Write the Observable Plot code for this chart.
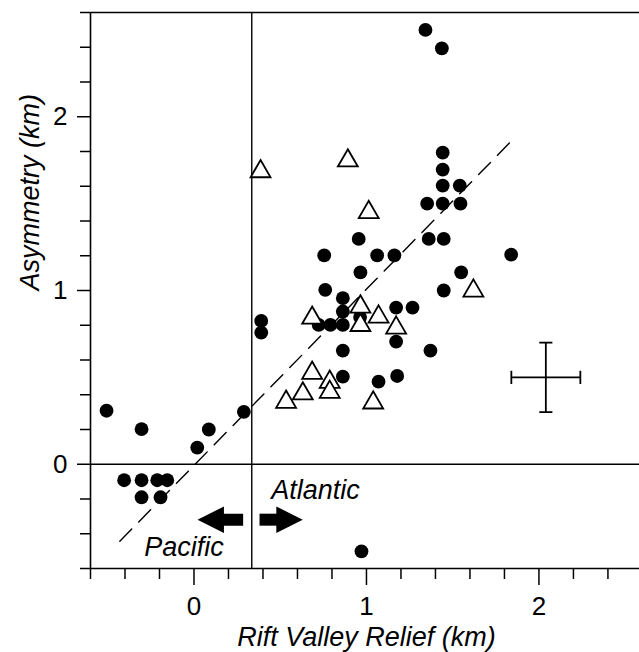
<!DOCTYPE html>
<html><head><meta charset="utf-8">
<script src="https://cdn.jsdelivr.net/npm/d3@7"></script>
<script src="https://cdn.jsdelivr.net/npm/@observablehq/plot@0.6"></script>
<style>
html,body{margin:0;padding:0;background:#fff;}
</style></head><body><div id="chart"></div>
<script>
// Filled circles
const circleX = [-0.507,-0.304,0.086,0.019,0.289,-0.405,-0.304,-0.213,-0.155,-0.304,-0.194,
  0.755,1.062,1.162,0.965,1.549,0.761,1.448,0.863,0.863,1.172,1.267,0.39,0.39,0.723,0.791,0.863,0.963,
  0.863,1.172,1.371,0.863,1.07,1.178,1.342,1.437,1.442,1.442,1.442,1.541,1.352,1.442,1.545,0.955,1.361,1.448,1.839,0.971];
const circleY = [0.308,0.202,0.200,0.096,0.302,-0.092,-0.092,-0.092,-0.092,-0.19,-0.19,
  1.202,1.202,1.202,1.104,1.104,1.004,1.0,0.956,0.879,0.902,0.902,0.825,0.758,0.802,0.802,0.802,0.847,
  0.654,0.706,0.654,0.504,0.475,0.508,2.50,2.393,1.793,1.696,1.604,1.604,1.50,1.50,1.50,1.297,1.297,1.297,1.206,-0.502];
// Open triangles
const triX = [0.685,0.965,0.965,1.07,1.172,0.685,0.787,0.787,0.631,0.534,1.039,1.62,0.386,0.892,1.013];
const triY = [0.842,0.906,0.80,0.848,0.785,0.525,0.473,0.415,0.406,0.358,0.354,0.998,1.685,1.747,1.45];
// Dashed fit line
const fitX = [-0.43, 1.84];
const fitY = [-0.443, 1.86];
// Reference lines
const dividerX = [0.335];
const zeroY = [0];
// Error cross
const errX = [2.04], errY = [0.5], errDX = [0.2], errDY = [0.2], errCap = [0.038];
// Arrows
const arrowTailX = [0.285, 0.38];
const arrowHeadX = [0.097, 0.554];
const arrowY = [-0.319, -0.319];
const arrowRotate = [180, 0];
// Annotations
const noteText = ["Atlantic", "Pacific"];
const noteX = [0.704, -0.058];
const noteY = [-0.148, -0.477];
// Ticks
const xMajor = [0, 1, 2];
const xMinor = [-0.6,-0.4,-0.2,0.2,0.4,0.6,0.8,1.2,1.4,1.6,1.8,2.2,2.4];
const yMajor = [0, 1, 2];
const yMinor = [-0.6,-0.4,-0.2,0.2,0.4,0.6,0.8,1.2,1.4,1.6,1.8,2.2,2.4,2.6];
const xLabel = "Rift Valley Relief (km)";
const yLabel = "Asymmetry (km)";

const circles = circleX.map((x, i) => ({x, y: circleY[i]}));
const tris = triX.map((x, i) => ({x, y: triY[i]}));
const fit = fitX.map((x, i) => ({x, y: fitY[i]}));
const errLinks = [];
errX.forEach((cx, i) => {
  const cy = errY[i], dx = errDX[i], dy = errDY[i], c = errCap[i];
  errLinks.push({x1: cx - dx, x2: cx + dx, y1: cy, y2: cy});
  errLinks.push({x1: cx, x2: cx, y1: cy - dy, y2: cy + dy});
  errLinks.push({x1: cx - dx, x2: cx - dx, y1: cy - c, y2: cy + c});
  errLinks.push({x1: cx + dx, x2: cx + dx, y1: cy - c, y2: cy + c});
  errLinks.push({x1: cx - c, x2: cx + c, y1: cy - dy, y2: cy - dy});
  errLinks.push({x1: cx - c, x2: cx + c, y1: cy + dy, y2: cy + dy});
});
const arrows = arrowTailX.map((t, i) => ({x1: t, x2: arrowHeadX[i], y: arrowY[i], rot: arrowRotate[i]}));
const notes = noteText.map((t, i) => ({t, x: noteX[i], y: noteY[i]}));

const headSymbol = {
  draw(ctx, size) {
    const r = Math.sqrt(size / Math.PI);
    ctx.moveTo(r, 0);
    ctx.lineTo(-r, -r);
    ctx.lineTo(-r, r);
    ctx.closePath();
  }
};

const FONT = "'Liberation Sans', Arial, Helvetica, sans-serif";

const chart = Plot.plot({
  width: 639,
  height: 652,
  marginLeft: 90,
  marginRight: 0,
  marginTop: 12,
  marginBottom: 84,
  x: {domain: [-0.6, 2.583]},
  y: {domain: [-0.6, 2.6]},
  style: {fontFamily: FONT, fontSize: "26px", background: "white", color: "black", overflow: "visible"},
  marks: [
    Plot.axisX({ticks: xMinor, tickSize: 11, tickFormat: () => "", label: null, strokeWidth: 1.5}),
    Plot.axisX({ticks: xMajor, tickSize: 17, tickPadding: 11, tickFormat: d3.format("d"), label: null, strokeWidth: 1.5, fontSize: 26}),
    Plot.axisY({ticks: yMinor, tickSize: 10, tickFormat: () => "", label: null, strokeWidth: 1.5}),
    Plot.axisY({ticks: yMajor, tickSize: 13, tickPadding: 10, tickFormat: d3.format("d"), label: null, strokeWidth: 1.5, fontSize: 26}),
    Plot.ruleX([-0.6], {stroke: "black", strokeWidth: 1.6}),
    Plot.ruleY([-0.6], {stroke: "black", strokeWidth: 1.6}),
    Plot.ruleY([2.6], {stroke: "black", strokeWidth: 1.6}),
    Plot.ruleY(zeroY, {stroke: "black", strokeWidth: 1.4}),
    Plot.ruleX(dividerX, {stroke: "black", strokeWidth: 1.4}),
    Plot.line(fit, {x: "x", y: "y", stroke: "black", strokeWidth: 1.4, strokeDasharray: "17,10"}),
    Plot.link(errLinks, {x1: "x1", x2: "x2", y1: "y1", y2: "y2", stroke: "black", strokeWidth: 1.8}),
    Plot.link(arrows, {x1: "x1", x2: "x2", y1: "y", y2: "y", stroke: "black", strokeWidth: 12}),
    Plot.dot(arrows, {x: "x2", y: "y", symbol: headSymbol, r: 13.2, fill: "black", stroke: "none", rotate: "rot"}),
    Plot.dot(circles, {x: "x", y: "y", r: 6.9, fill: "black", stroke: "none"}),
    Plot.dot(tris, {x: "x", y: "y", symbol: "triangle", r: 7.4, fill: "white", stroke: "black", strokeWidth: 1.8}),
    Plot.text(notes, {x: "x", y: "y", text: "t", fontSize: 27, fontStyle: "italic", fill: "black", lineAnchor: "middle"}),
    Plot.text([xLabel], {x: [1.0], frameAnchor: "bottom", dy: 69, text: d => d, fontSize: 27, fontStyle: "italic", fill: "black", lineAnchor: "middle"}),
    Plot.text([yLabel], {y: [1.0], frameAnchor: "left", dx: -60, rotate: -90, text: d => d, fontSize: 27, fontStyle: "italic", fill: "black", lineAnchor: "middle"})
  ]
});
document.getElementById("chart").appendChild(chart);
</script>
</body></html>
